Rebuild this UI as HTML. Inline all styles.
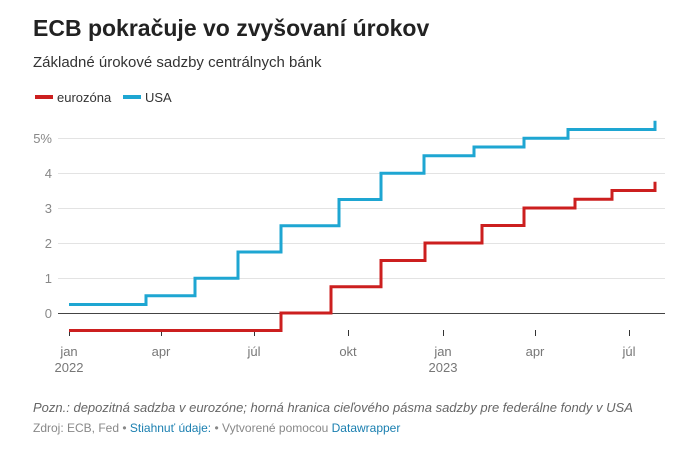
<!DOCTYPE html>
<html><head><meta charset="utf-8"><style>
body{margin:0;background:#fff;width:683px;height:450px;overflow:hidden;font-family:"Liberation Sans",sans-serif}
</style></head><body>
<svg width="683" height="450" xmlns="http://www.w3.org/2000/svg" font-family="Liberation Sans, sans-serif">
<text x="33" y="36" font-size="23" font-weight="bold" fill="#222">ECB pokračuje vo zvyšovaní úrokov</text>
<text x="33" y="67" font-size="15" fill="#333">Základné úrokové sadzby centrálnych bánk</text>
<rect x="35" y="95" width="18" height="4" fill="#cc1f1f"/><text x="57" y="102" font-size="13" fill="#333">eurozóna</text>
<rect x="123" y="95" width="18" height="4" fill="#1ea6d2"/><text x="145" y="102" font-size="13" fill="#333">USA</text>
<g stroke="#e3e3e3" stroke-width="1">
<line x1="58" x2="665" y1="138.5" y2="138.5"/><line x1="58" x2="665" y1="173.5" y2="173.5"/>
<line x1="58" x2="665" y1="208.5" y2="208.5"/><line x1="58" x2="665" y1="243.5" y2="243.5"/>
<line x1="58" x2="665" y1="278.5" y2="278.5"/></g>
<line x1="58" x2="665" y1="313.5" y2="313.5" stroke="#444"/>
<g font-size="13" fill="#888" text-anchor="end">
<text x="52" y="143">5%</text><text x="52" y="178">4</text><text x="52" y="213">3</text>
<text x="52" y="248">2</text><text x="52" y="283">1</text><text x="52" y="318">0</text></g>
<g stroke="#333" stroke-width="1">
<line x1="69.5" x2="69.5" y1="330" y2="336"/><line x1="161.5" x2="161.5" y1="330" y2="336"/>
<line x1="254.5" x2="254.5" y1="330" y2="336"/><line x1="348.5" x2="348.5" y1="330" y2="336"/>
<line x1="443.5" x2="443.5" y1="330" y2="336"/><line x1="535.5" x2="535.5" y1="330" y2="336"/>
<line x1="629.5" x2="629.5" y1="330" y2="336"/></g>
<g font-size="13" fill="#777" text-anchor="middle">
<text x="69" y="356">jan</text><text x="69" y="372">2022</text><text x="161" y="356">apr</text>
<text x="254" y="356">júl</text><text x="348" y="356">okt</text><text x="443" y="356">jan</text><text x="443" y="372">2023</text>
<text x="535" y="356">apr</text><text x="629" y="356">júl</text></g>
<polyline fill="none" stroke="#1ea6d2" stroke-width="3" points="69,304.5 146,304.5 146,295.75 195,295.75 195,278.25 238,278.25 238,252 281,252 281,225.75 339,225.75 339,199.5 381,199.5 381,173.25 424,173.25 424,155.75 474,155.75 474,147 524,147 524,138.25 568,138.25 568,129.5 655,129.5 655,120.75"/>
<polyline fill="none" stroke="#cc1f1f" stroke-width="3" points="69,330.5 281,330.5 281,313 331,313 331,286.75 381,286.75 381,260.5 425,260.5 425,243 482,243 482,225.5 524,225.5 524,208 575,208 575,199.25 612,199.25 612,190.5 655,190.5 655,181.75"/>
<text x="33" y="412" font-size="13" font-style="italic" fill="#666">Pozn.: depozitná sadzba v eurozóne; horná hranica cieľového pásma sadzby pre federálne fondy v USA</text>
<text x="33" y="432" font-size="12" fill="#888">Zdroj: ECB, Fed • <tspan fill="#1a7fb0">Stiahnuť údaje:</tspan> • Vytvorené pomocou <tspan fill="#1a7fb0">Datawrapper</tspan></text>
</svg>
</body></html>
